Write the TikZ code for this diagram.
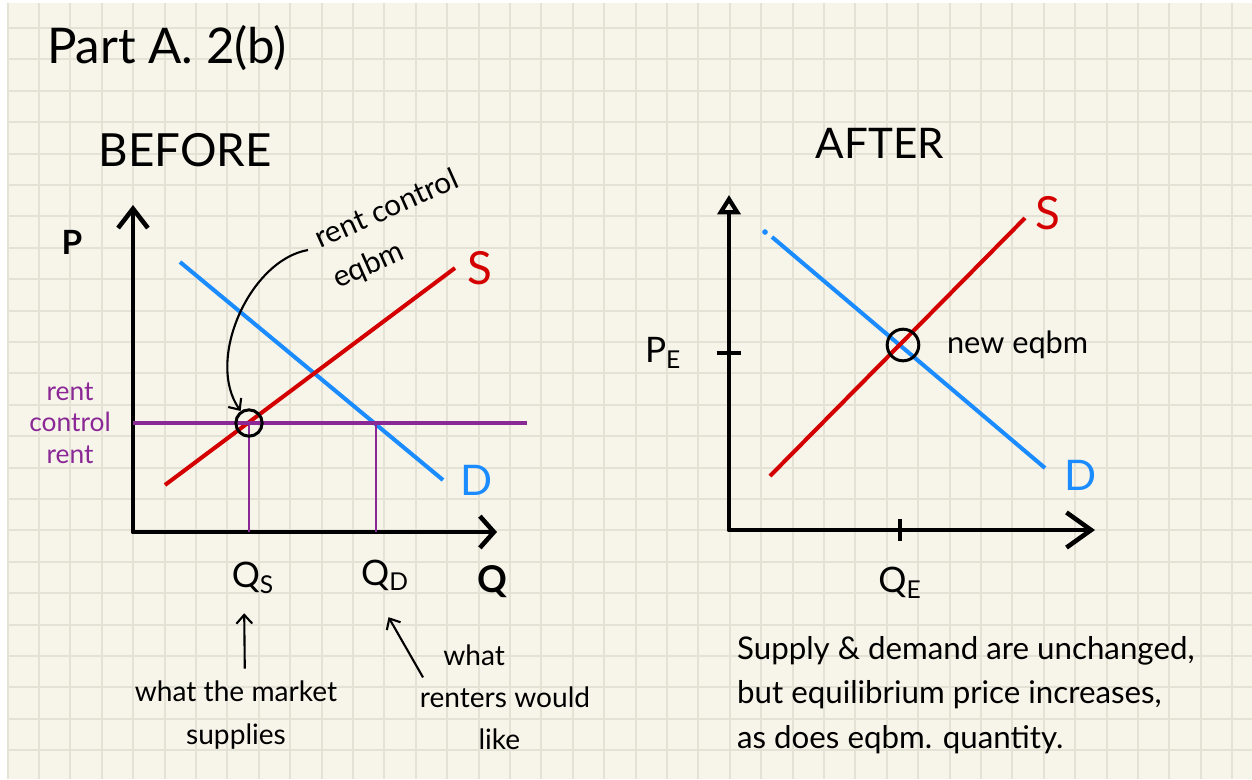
\documentclass[tikz,border=0pt]{standalone}
\usepackage{fontspec}
\setmainfont{Lato}
\usetikzlibrary{arrows.meta, positioning}

\definecolor{paper}{HTML}{F7F5EA}
\definecolor{gridline}{HTML}{E3E2D5}
\definecolor{supplyred}{HTML}{D40000}
\definecolor{demandblue}{HTML}{1A8CFF}
\definecolor{rentpurple}{HTML}{8A2896}

\begin{document}
\begin{tikzpicture}[
    x=0.02cm, y=-0.02cm,
    axisL/.style={line width=2.8pt, line join=round, {Straight Barb[length=11pt, width=17pt, line width=2.6pt]}-{Straight Barb[length=8pt, width=18pt, line width=2.6pt]}},
    axisR/.style={line width=2.8pt, line join=round, {Triangle[open, length=11pt, width=13pt, line width=2.4pt]}-{Straight Barb[length=14pt, width=20pt, line width=2.6pt]}},
    supply/.style={draw=supplyred, line width=2.3pt},
    demand/.style={draw=demandblue, line width=2.3pt},
    ceiling/.style={draw=rentpurple, line width=2.6pt},
    drop/.style={draw=rentpurple, line width=0.7pt},
    ring/.style={draw, circle, line width=1.7pt, inner sep=0pt, minimum size=#1},
    ring/.default=15pt,
    tick/.style={line width=2.4pt},
    pointer/.style={-{Straight Barb[length=5pt, width=9pt, line width=1.2pt]}, line width=1.2pt},
    head/.style={font=\fontsize{#1}{#1}\selectfont, inner sep=1pt},
    head/.default=26pt,
    note/.style={font=\fontsize{16}{24}\selectfont, inner sep=1pt, align=center},
    qlab/.style={font=\fontsize{20}{20}\selectfont, inner sep=1pt},
]
\useasboundingbox (0,0) rectangle (1252,779);
% paper and grid
\fill[white] (0,0) rectangle (1252,779);
\fill[paper] (7,3) rectangle (1252,779);
\foreach \i in {0,...,39}
  \draw[gridline, line width=1.1pt] ({7.6+31.4*\i},3) -- ({7.6+31.4*\i},779);
\foreach \j in {0,...,23}
  \draw[gridline, line width=1.1pt] (7,{28+31.4*\j}) -- (1252,{28+31.4*\j});

% titles
\node[head=28pt] (title) at (167,48) {Part A. 2(b)};
\node[head=26pt] (before) at (185,150) {BEFORE};
\node[head=24pt] (after) at (880,143) {AFTER};

% ---- before: rent control ----
\coordinate (O1) at (133,532);
\coordinate (Y1) at (133,205);
\coordinate (X1) at (497,532);
\draw[axisL] (Y1) -- (O1) -- (X1);
\node[qlab, font=\fontsize{19}{19}\selectfont\bfseries] (paxis) at (72,242) {P};
\node[qlab, font=\fontsize{21}{21}\selectfont\bfseries] (qaxis) at (492,582) {Q};

\coordinate (S1a) at (165,485);
\coordinate (S1b) at (455,268);
\coordinate (D1a) at (180,262);
\coordinate (D1b) at (443,480);
\draw[demand] (D1a) -- (D1b);
\draw[supply] (S1a) -- (S1b);
\node[head=26pt, text=supplyred, right=6pt of S1b] (S1) {S};
\node[head=24pt, text=demandblue, right=9pt of D1b] (D1) {D};

\coordinate (R1a) at (133,423);
\coordinate (R1b) at (527,423);
\coordinate (eqS) at (249,423);
\coordinate (eqD) at (376,423);
\draw[ceiling] (R1a) -- (R1b);
\draw[drop] (eqS) -- (eqS |- O1);
\draw[drop] (eqD) -- (eqD |- O1);
\node[font=\fontsize{15}{18}\selectfont, text=rentpurple, align=center, inner sep=1pt] (rentlab) at (70,423) {rent\\control\\rent};
\node[ring=15pt] (rc) at (eqS) {};

\node[note, font=\fontsize{17}{25}\selectfont, align=left, rotate=24] (rcnote) at (396,230) {rent control\\eqbm};
\coordinate (rcstart) at (308,250);
\draw[pointer] (rcstart) .. controls (250,260) and (205,360) .. (rc);

\node[qlab] (qs) at (253,578) {Q\textsubscript{S}};
\node[qlab] (qd) at (385,575) {Q\textsubscript{D}};
\node[note] (mkt) at (236,715) {what the market\\supplies};
\node[note] (renters) at (505,697) {what\hspace*{2.2em}\\renters would\\like\hspace*{0.4em}};
\draw[pointer] ([xshift=5pt, yshift=6pt]mkt.north) -- ([xshift=-5pt, yshift=-10pt]qs.south);
\draw[pointer] ([xshift=3pt, yshift=-20pt]renters.north west) -- ([xshift=2pt, yshift=-14pt]qd.south);

% ---- after: free market ----
\coordinate (O2) at (729,530);
\coordinate (Y2) at (729,195);
\coordinate (X2) at (1095,530);
\draw[axisR] (Y2) -- (O2) -- (X2);

\coordinate (S2a) at (770,476);
\coordinate (S2b) at (1025,218);
\coordinate (D2a) at (772,237);
\coordinate (D2b) at (1045,468);
\draw[demand] (D2a) -- (D2b);
\fill[demandblue] (765,232) circle (1.6pt);
\draw[supply] (S2a) -- (S2b);
\node[head=26pt, text=supplyred, right=5pt of S2b, yshift=3pt] (S2) {S};
\node[head=24pt, text=demandblue, right=10pt of D2b, yshift=-4pt] (D2) {D};

\coordinate (eqE) at (903,345);
\node[ring=18pt] (ne) at (eqE) {};
\node[note, font=\fontsize{17.5}{20}\selectfont, right=14pt of ne] (nelab) {new eqbm};

\coordinate (pe) at (729,353);
\draw[tick] ([xshift=-7pt]pe) -- ([xshift=7pt]pe);
\node[qlab, left=26pt of pe] (pelab) {P\textsubscript{E}};
\coordinate (qe) at (900,530);
\draw[tick] ([yshift=6pt]qe) -- ([yshift=-6pt]qe);
\node[qlab, below=20pt of qe] (qelab) {Q\textsubscript{E}};

\node[font=\fontsize{17.8}{25.5}\selectfont, align=left, anchor=west, inner sep=1pt] (summary) at (735,695)
  {Supply \& demand are unchanged,\\but equilibrium price increases,\\as does eqbm. quantity.};
\end{tikzpicture}
\end{document}
